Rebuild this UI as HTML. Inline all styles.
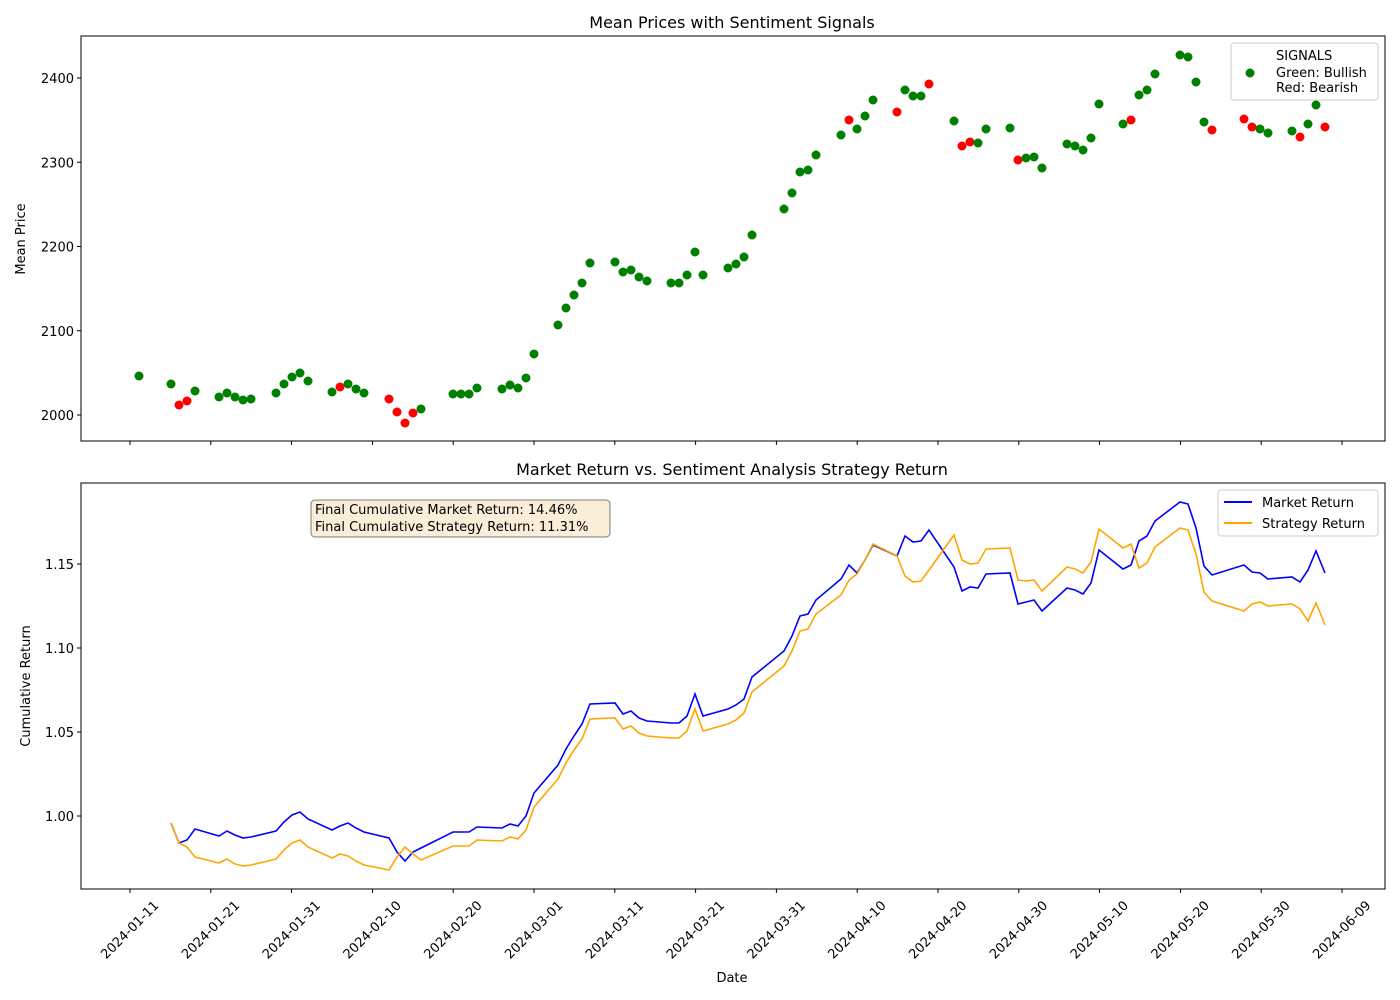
<!DOCTYPE html>
<html><head><meta charset="utf-8"><style>body{margin:0;background:#fff}svg{display:block}text{font-family:"DejaVu Sans","Liberation Sans",sans-serif;fill:#000}</style></head><body>
<svg width="1400" height="1000" viewBox="0 0 1400 1000" xmlns="http://www.w3.org/2000/svg">
<rect width="1400" height="1000" fill="#fff"/>
<text x="732" y="28" font-size="16" text-anchor="middle">Mean Prices with Sentiment Signals</text>
<text x="732" y="475" font-size="16" text-anchor="middle">Market Return vs. Sentiment Analysis Strategy Return</text>
<g id="gtop"></g><g id="gbot"></g>
<rect x="81" y="36" width="1304" height="405" fill="none" stroke="#000" stroke-width="1"/>
<rect x="81" y="483" width="1304" height="406" fill="none" stroke="#000" stroke-width="1"/>
<text transform="translate(25,239) rotate(-90)" font-size="13" text-anchor="middle">Mean Price</text>
<text transform="translate(30,686) rotate(-90)" font-size="13" text-anchor="middle">Cumulative Return</text>
<text x="732" y="982" font-size="13" text-anchor="middle">Date</text>
<rect x="1231" y="43" width="147" height="57" rx="3" fill="#fff" stroke="#ccc"/>
<text x="1276" y="60" font-size="13">SIGNALS</text>
<circle cx="1250" cy="73" r="4.5" fill="green"/>
<text x="1276" y="77" font-size="13">Green: Bullish</text>
<text x="1276" y="92" font-size="13">Red: Bearish</text>
<rect x="1218" y="490" width="160" height="46" rx="3" fill="#fff" stroke="#ccc"/>
<line x1="1224" y1="502" x2="1252" y2="502" stroke="blue" stroke-width="2"/>
<text x="1262" y="507" font-size="13">Market Return</text>
<line x1="1224" y1="523" x2="1252" y2="523" stroke="orange" stroke-width="2"/>
<text x="1262" y="528" font-size="13">Strategy Return</text>
<rect x="311" y="500" width="299" height="37" rx="4" fill="#f5deb3" fill-opacity="0.5" stroke="#000" stroke-opacity="0.5"/>
<text x="315" y="514" font-size="13">Final Cumulative Market Return: 14.46%</text>
<text x="315" y="531" font-size="13">Final Cumulative Strategy Return: 11.31%</text>
</svg>
<script>
(function(){
const NS="http://www.w3.org/2000/svg",svg=document.querySelector('svg');
function el(t,a,p){const e=document.createElementNS(NS,t);for(const k in a)e.setAttribute(k,a[k]);(p||svg).appendChild(e);return e;}
const gTop=document.getElementById('gtop'),gBot=document.getElementById('gbot');
[2000,2100,2200,2300,2400].forEach(v=>{const y=415-(v-2000)*0.8425;el('line',{x1:77,x2:81,y1:y,y2:y,stroke:'#000'},gTop);const t=el('text',{x:74,y:y+5,'font-size':13,'text-anchor':'end'},gTop);t.textContent=v;});
[[1.00,816],[1.05,732],[1.10,648],[1.15,564]].forEach(([v,y])=>{el('line',{x1:77,x2:81,y1:y,y2:y,stroke:'#000'},gBot);const t=el('text',{x:74,y:y+5,'font-size':13,'text-anchor':'end'},gBot);t.textContent=v.toFixed(2);});
const dates=['2024-01-11','2024-01-21','2024-01-31','2024-02-10','2024-02-20','2024-03-01','2024-03-11','2024-03-21','2024-03-31','2024-04-10','2024-04-20','2024-04-30','2024-05-10','2024-05-20','2024-05-30','2024-06-09'];
dates.forEach((d,i)=>{const x=130+i*80.8;el('line',{x1:x,x2:x,y1:441,y2:445,stroke:'#000'},gTop);el('line',{x1:x,x2:x,y1:889,y2:893,stroke:'#000'},gBot);const t=el('text',{x:x,y:934,'font-size':13,'text-anchor':'middle',transform:`rotate(-45 ${x} 930)`},gBot);t.textContent=d;});
const pts=`139,376,g 171,384,g 179,405,r 187,401,r 195,391,g 219,397,g 227,393,g 235,397,g 243,400,g 251,399,g 276,393,g 284,384,g 292,377,g 300,373,g 308,381,g 332,392,g 340,387,r 348,384,g 356,389,g 364,393,g 389,399,r 397,412,r 405,423,r 413,413,r 421,409,g 453,394,g 461,394,g 469,394,g 477,388,g 502,389,g 510,385,g 518,388,g 526,378,g 534,354,g 558,325,g 566,308,g 574,295,g 582,283,g 590,263,g 615,262,g 623,272,g 631,270,g 639,277,g 647,281,g 671,283,g 679,283,g 687,275,g 695,252,g 703,275,g 728,268,g 736,264,g 744,257,g 752,235,g 784,209,g 792,193,g 800,172,g 808,170,g 816,155,g 841,135,g 849,120,r 857,129,g 865,116,g 873,100,g 897,112,r 905,90,g 913,96,g 921,96,g 929,84,r 954,121,g 962,146,r 970,142,r 978,143,g 986,129,g 1010,128,g 1018,160,r 1026,158,g 1034,157,g 1042,168,g 1067,144,g 1075,146,g 1083,150,g 1091,138,g 1099,104,g 1123,124,g 1131,120,r 1139,95,g 1147,90,g 1155,74,g 1180,55,g 1188,57,g 1196,82,g 1204,122,g 1212,130,r 1244,119,r 1252,127,r 1260,129,g 1268,133,g 1292,131,g 1300,137,r 1308,124,g 1316,105,g 1325,127,r`;
pts.split(' ').forEach(s=>{const [x,y,c]=s.split(',');el('circle',{cx:x,cy:y,r:4.5,fill:c=='g'?'green':'red'},gTop);});
const blue=`171,823 179,843 187,840 195,829 219,836 227,831 235,835 243,838 251,837 276,831 284,822 292,815 300,812 308,819 332,830 340,826 348,823 356,828 364,832 389,838 397,852 405,861 413,852 421,848 453,832 461,832 469,832 477,827 502,828 510,824 518,826 526,816 534,793 558,765 566,749 574,736 582,724 590,704 615,703 623,714 631,711 639,718 647,721 671,723 679,723 687,716 695,694 703,716 728,709 736,705 744,699 752,677 784,651 792,636 800,616 808,614 816,600 841,579 849,565 857,573 865,560 873,545 897,556 905,536 913,542 921,541 929,530 954,567 962,591 970,587 978,588 986,574 1010,573 1018,604 1026,602 1034,600 1042,611 1067,588 1075,590 1083,594 1091,583 1099,550 1123,569 1131,565 1139,541 1147,536 1155,521 1180,502 1188,504 1196,528 1204,566 1212,575 1244,565 1252,572 1260,573 1268,579 1292,577 1300,582 1308,570 1316,551 1325,573`;
const orange=`171,823 179,843 187,847 195,857 219,863 227,859 235,864 243,866 251,865 276,859 284,850 292,843 300,840 308,847 332,858 340,854 348,856 356,861 364,865 389,870 397,857 405,847 413,854 421,860 453,846 461,846 469,846 477,840 502,841 510,837 518,839 526,830 534,807 558,779 566,763 574,750 582,739 590,719 615,718 623,729 631,726 639,733 647,736 671,738 679,738 687,731 695,709 703,731 728,724 736,720 744,713 752,692 784,666 792,651 800,631 808,629 816,614 841,595 849,580 857,574 865,560 873,544 897,556 905,576 913,582 921,581 929,570 954,535 962,560 970,564 978,563 986,549 1010,548 1018,580 1026,581 1034,580 1042,591 1067,567 1075,569 1083,573 1091,562 1099,529 1123,548 1131,544 1139,568 1147,563 1155,547 1180,528 1188,530 1196,554 1204,592 1212,601 1244,611 1252,604 1260,602 1268,606 1292,604 1300,609 1308,621 1316,603 1325,625`;
el('polyline',{points:blue,fill:'none',stroke:'blue','stroke-width':1.6},gBot);
el('polyline',{points:orange,fill:'none',stroke:'orange','stroke-width':1.6},gBot);
})();
</script>
</body></html>
